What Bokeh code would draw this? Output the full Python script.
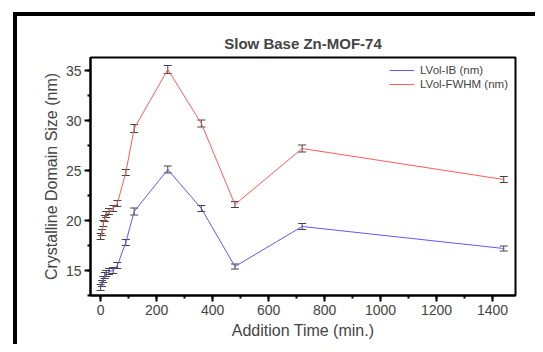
from bokeh.plotting import figure
from bokeh.layouts import column, row
from bokeh.models import ColumnDataSource, Whisker, TeeHead, SingleIntervalTicker, Range1d, Legend, LegendItem, Div
from bokeh.embed import file_html
from bokeh.resources import INLINE

time_min = [0, 5, 10, 15, 20, 30, 45, 60, 90, 120, 240, 360, 480, 720, 1440]
lvol_ib = [13.3, 13.7, 14.1, 14.5, 14.7, 14.9, 15.0, 15.5, 17.8, 20.9, 25.1, 21.2, 15.4, 19.4, 17.2]
lvol_ib_err = [0.3, 0.3, 0.3, 0.3, 0.3, 0.3, 0.3, 0.3, 0.3, 0.35, 0.35, 0.3, 0.25, 0.3, 0.25]
lvol_fwhm = [18.4, 18.8, 19.7, 20.2, 20.6, 20.9, 21.2, 21.7, 24.8, 29.2, 35.1, 29.7, 21.6, 27.2, 24.1]
lvol_fwhm_err = [0.3, 0.3, 0.3, 0.3, 0.3, 0.3, 0.3, 0.3, 0.3, 0.4, 0.4, 0.35, 0.3, 0.35, 0.3]

FONT = "Liberation Sans"
BLUE = "#5a5aff"
RED = "#ff5a5a"

p = figure(width=518, height=328, output_backend="svg", toolbar_location=None,
           x_range=Range1d(-36, 1482), y_range=Range1d(12.5, 36.3),
           min_border_left=73, min_border_right=20, min_border_top=41, min_border_bottom=49)

p.title.text = "Slow Base Zn-MOF-74"
p.title.align = "center"
p.title.text_font = FONT
p.title.text_font_size = "15px"
p.title.text_font_style = "bold"
p.title.standoff = 12

src = ColumnDataSource(dict(
    x=time_min,
    ib=lvol_ib,
    ib_lo=[v - e for v, e in zip(lvol_ib, lvol_ib_err)],
    ib_hi=[v + e for v, e in zip(lvol_ib, lvol_ib_err)],
    fw=lvol_fwhm,
    fw_lo=[v - e for v, e in zip(lvol_fwhm, lvol_fwhm_err)],
    fw_hi=[v + e for v, e in zip(lvol_fwhm, lvol_fwhm_err)],
))

r_ib = p.line("x", "ib", source=src, line_color=BLUE, line_width=1)
r_fw = p.line("x", "fw", source=src, line_color=RED, line_width=1)

for lo, hi in (("ib_lo", "ib_hi"), ("fw_lo", "fw_hi")):
    w = Whisker(source=src, base="x", lower=lo, upper=hi, line_color="#444444", line_width=1,
                upper_head=TeeHead(size=8, line_color="#444444", line_width=1),
                lower_head=TeeHead(size=8, line_color="#444444", line_width=1))
    p.add_layout(w)

legend = Legend(items=[LegendItem(label="LVol-IB (nm)", renderers=[r_ib]),
                       LegendItem(label="LVol-FWHM (nm)", renderers=[r_fw])],
                location="top_right", border_line_color=None, background_fill_alpha=0,
                label_text_font=FONT, label_text_font_size="11.5px", glyph_width=25,
                glyph_height=12, label_height=12, spacing=2, padding=6, margin=7,
                label_standoff=6)
p.add_layout(legend)

p.xaxis.ticker = SingleIntervalTicker(interval=200, num_minor_ticks=2)
p.yaxis.ticker = SingleIntervalTicker(interval=5, num_minor_ticks=2)
p.xaxis.axis_label = "Addition Time (min.)"
p.yaxis.axis_label = "Crystalline Domain Size (nm)"
for ax in (p.xaxis, p.yaxis):
    ax.axis_label_text_font = FONT
    ax.axis_label_text_font_size = "16px"
    ax.axis_label_text_font_style = "normal"
    ax.major_label_text_font = FONT
    ax.major_label_text_font_size = "14px"
    ax.axis_line_width = 2
    ax.major_tick_line_width = 2
    ax.minor_tick_line_width = 2
    ax.major_tick_out = 6
    ax.major_tick_in = 0
    ax.minor_tick_out = 3
    ax.minor_tick_in = 0
p.xaxis.major_label_standoff = 3
p.xaxis.axis_label_standoff = 4
p.yaxis.major_label_standoff = 3
p.yaxis.axis_label_standoff = 3
p.yaxis.major_label_orientation = "horizontal"

p.xgrid.visible = False
p.ygrid.visible = False
p.outline_line_color = "black"
p.outline_line_width = 2
p.outline_line_alpha = 1

# thick black page frame on top and left
top_bar = Div(text="", width=522, height=4, margin=0, styles={"background-color": "black"})
left_bar = Div(text="", width=4, height=328, margin=0, styles={"background-color": "black"})
layout = column(top_bar, row(left_bar, p, spacing=0, margin=0), spacing=0, margin=(12, 0, 0, 13))

open("out.html", "w").write(file_html(layout, INLINE))
